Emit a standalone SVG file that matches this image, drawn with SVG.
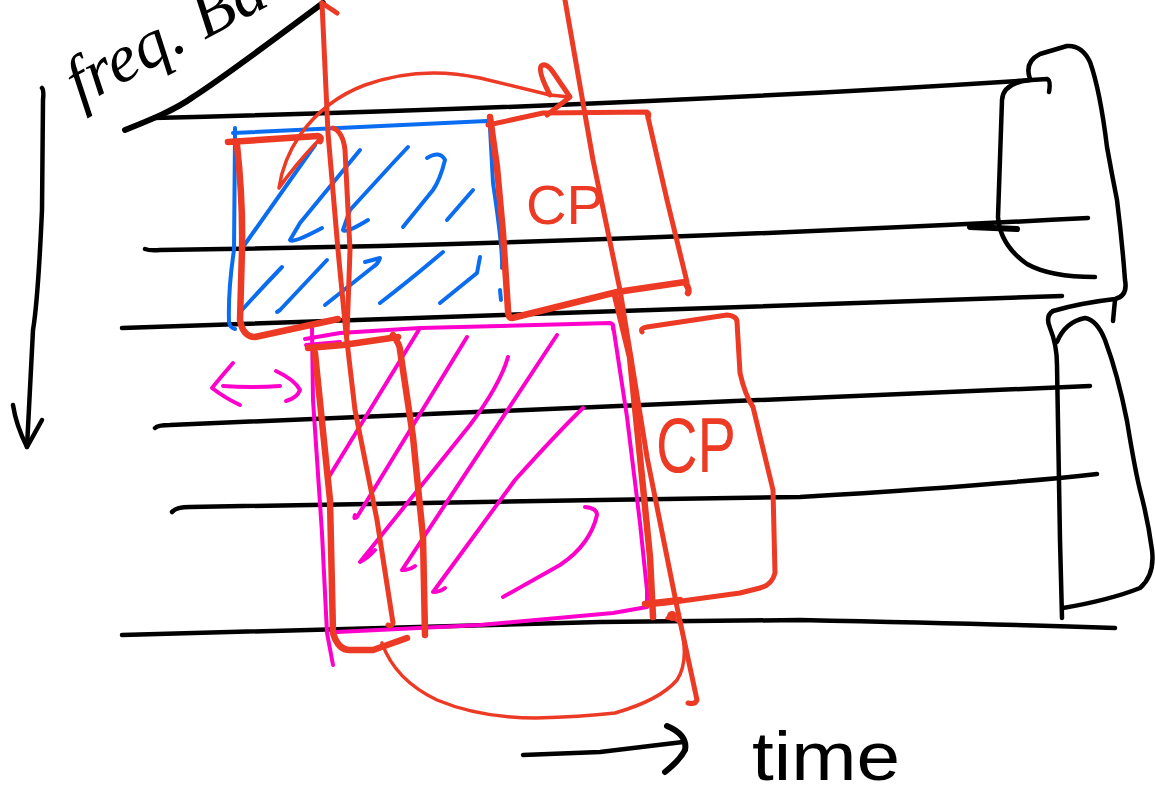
<svg xmlns="http://www.w3.org/2000/svg" width="1155" height="804" viewBox="0 0 1155 804">
<style>
.k{stroke:#000;fill:none;stroke-width:4.5;stroke-linecap:round;stroke-linejoin:round}
.kt{stroke:#000;fill:none;stroke-width:6;stroke-linecap:round;stroke-linejoin:round}
.r{stroke:#EC3A25;fill:none;stroke-width:5;stroke-linecap:round;stroke-linejoin:round}
.rt{stroke:#EC3A25;fill:none;stroke-width:6.5;stroke-linecap:round;stroke-linejoin:round}
.rn{stroke:#EC3A25;fill:none;stroke-width:3.5;stroke-linecap:round;stroke-linejoin:round}
.b{stroke:#0A6CF0;fill:none;stroke-width:4;stroke-linecap:round;stroke-linejoin:round}
.m{stroke:#FF00CC;fill:none;stroke-width:4;stroke-linecap:round;stroke-linejoin:round}
.hand{font-family:"Liberation Serif",serif;font-style:italic}
.lab{font-family:"Liberation Sans",sans-serif}
</style>
<rect width="1155" height="804" fill="#fff"/>

<g id="axis-labels">
<text class="hand" x="0" y="0" font-size="68" fill="#000" transform="translate(80,106) rotate(-28)">freq. Ba</text>
<path class="kt" d="M125,130 C150,120 175,110 193,97 C220,80 260,50 323,3"/>
<path class="k" d="M42,88 Q44,90 43,100 L42,210 Q38,300 33,330 L27,447"/>
<path class="k" d="M13,405 Q16,425 27,447 L42,420"/>
<path class="k" d="M523,755 L600,752 L683,742"/>
<path class="kt" d="M667,726 Q688,735 685,750 Q680,760 665,772"/>
<text class="lab" x="752" y="780" font-size="68" fill="#000" textLength="148" lengthAdjust="spacingAndGlyphs">time</text>
</g>

<g id="grid">
<path class="k" d="M153,118 C400,112 700,102 1047,79 Q1051,80 1049,92"/>
<path class="k" d="M145,249 Q150,251 160,250 C400,247 700,238 1088,218"/>
<path class="k" d="M122,328 C400,318 700,308 1062,296"/>
<path class="k" d="M155,428 Q158,425 170,425 C400,418 700,402 1090,386"/>
<path class="k" d="M172,512 Q176,507 190,507 L600,500 L800,497 Q1000,485 1097,474"/>
<path class="k" d="M122,635 L600,622 L800,620 Q1000,624 1115,628"/>
</g>

<g id="braces">
<path class="k" d="M1030,80 Q1003,83 1002,100 L998,217 Q1000,245 1027,264 Q1050,277 1095,277"/>
<path class="kt" d="M970,227 L1017,229"/>
<path class="k" d="M1030,79 Q1024,62 1040,54 L1067,46 Q1082,45 1090,62 Q1100,90 1107,147 Q1112,175 1117,200 Q1122,240 1125,280 Q1128,296 1115,299 Q1080,303 1053,311"/>
<path class="k" d="M1115,300 L1113,321"/>
<path class="k" d="M1053,311 Q1045,316 1050,328 Q1057,345 1057,365 L1060,540 L1062,618"/>
<path class="k" d="M1057,342 Q1065,322 1085,318 Q1097,320 1105,340 Q1118,375 1127,421 Q1135,470 1140,490 Q1148,520 1152,550 Q1155,575 1140,588 Q1110,600 1063,608"/>
</g>

<g id="blue-block">
<path class="b" d="M235,128 L235,135 M233,133 L487,121 Q490,122 490,128 L493,183 Q503,250 502,268"/>
<path class="b" d="M500,290 L501,300"/>
<path class="b" d="M235,135 L234,250 Q228,290 229,322 Q230,328 235,329"/>
<path class="b" d="M243,247 L315,145"/>
<path class="b" d="M360,150 L300,223 L290,240 Q292,244 322,228"/>
<path class="b" d="M408,147 L393,163 L350,210 L343,230 Q345,234 368,220"/>
<path class="b" d="M427,158 Q440,150 445,160 Q440,180 433,190 L403,227"/>
<path class="b" d="M473,190 L447,220"/>
<path class="b" d="M282,267 Q260,290 242,310"/>
<path class="b" d="M327,260 L280,310 L277,312"/>
<path class="b" d="M365,262 L380,258 Q378,264 373,267 L325,305"/>
<path class="b" d="M443,252 Q410,280 380,303"/>
<path class="b" d="M480,257 L477,273 L440,303"/>
</g>

<g id="magenta-block">
<path class="m" d="M305,339 L340,333 L420,328 L610,323 Q614,324 613,329"/>
<path class="m" d="M306,345 L340,342"/>
<path class="m" d="M312,328 L313,400 L322,533 L327,633 L333,665"/>
<path class="m" d="M613,325 L627,417 L640,523 L647,590 L647,605"/>
<path class="m" d="M337,632 L480,625 L613,613 L647,607"/>
<path class="m" d="M420,328 L327,480"/>
<path class="m" d="M467,337 L357,517 Q353,520 355,515"/>
<path class="m" d="M508,357 Q500,385 470,425 L360,562 Q368,558 375,550"/>
<path class="m" d="M557,335 L402,570 Q410,570 415,566"/>
<path class="m" d="M583,408 Q560,430 515,480 L433,592 Q440,592 445,588"/>
<path class="m" d="M585,507 Q597,508 597,515 Q590,545 560,565 L503,597"/>
<path class="m" d="M233,363 Q220,378 212,388 Q225,398 240,405"/>
<path class="m" d="M223,386 Q250,388 280,386"/>
<path class="m" d="M276,371 Q295,380 300,390 Q297,398 286,401"/>
</g>

<g id="red-marks">
<path class="r" d="M322,3 L328,133 L338,250 L346,333 L355,410 L377,520 L393,623 Q392,627 388,625"/>
<path class="r" d="M322,3 L337,13"/>
<path class="rt" d="M228,142 L318,136 Q322,137 320,141"/>
<path class="rt" d="M237,145 Q243,200 242,250 L240,320 Q243,337 255,337 L338,319"/>
<path class="r" d="M333,128 Q343,132 345,150 L350,250 L347,335"/>
<path class="rn" d="M318,141 Q295,165 279,188 Q283,160 300,135 Q325,100 365,85 Q420,65 480,78 L550,95 L570,97"/>
<path class="r" d="M550,95 Q538,72 541,66 Q546,62 553,72 L570,97 L547,115"/>
<path class="rt" d="M490,117 L497,167 L503,233 L508,310 Q508,318 512,318 L617,292 L685,282 Q690,290 688,293"/>
<path class="r" d="M488,125 L543,113 L647,112 Q650,113 648,118 M647,113 L667,200 L687,282"/>
<text class="lab" x="526" y="224" font-size="56" fill="#EC3A25" textLength="78" lengthAdjust="spacingAndGlyphs">CP</text>
<path class="r" d="M565,0 L593,160 L620,290 L647,457 L677,607 L697,700 Q695,705 688,703"/>
<path class="r" d="M642,332 Q640,328 647,327 L727,315 Q737,316 737,322 L740,373 Q745,395 753,407 L773,490 L775,573 Q772,585 760,588 L740,593 L667,603 L647,605"/>
<path class="rt" d="M615,295 L630,357 L640,457 L650,557 L653,617"/>
<path class="rt" d="M645,604 L680,600"/>
<circle cx="672" cy="616" r="5" fill="#EC3A25"/>
<text class="lab" x="656" y="472" font-size="78" fill="#EC3A25" textLength="80" lengthAdjust="spacingAndGlyphs">CP</text>
<path class="rt" d="M308,348 L343,345 L398,337"/>
<path class="rt" d="M315,353 L330,500 L333,633 Q338,650 350,650 L373,650 L407,638"/>
<path class="rt" d="M393,335 Q400,345 400,350 L413,437 L423,537 L425,635"/>
<path class="rn" d="M382,643 Q395,680 437,700 Q480,718 536,718 Q580,717 615,713 Q660,700 677,680 Q690,660 680,623 Q676,618 667,618"/>
</g>
</svg>
